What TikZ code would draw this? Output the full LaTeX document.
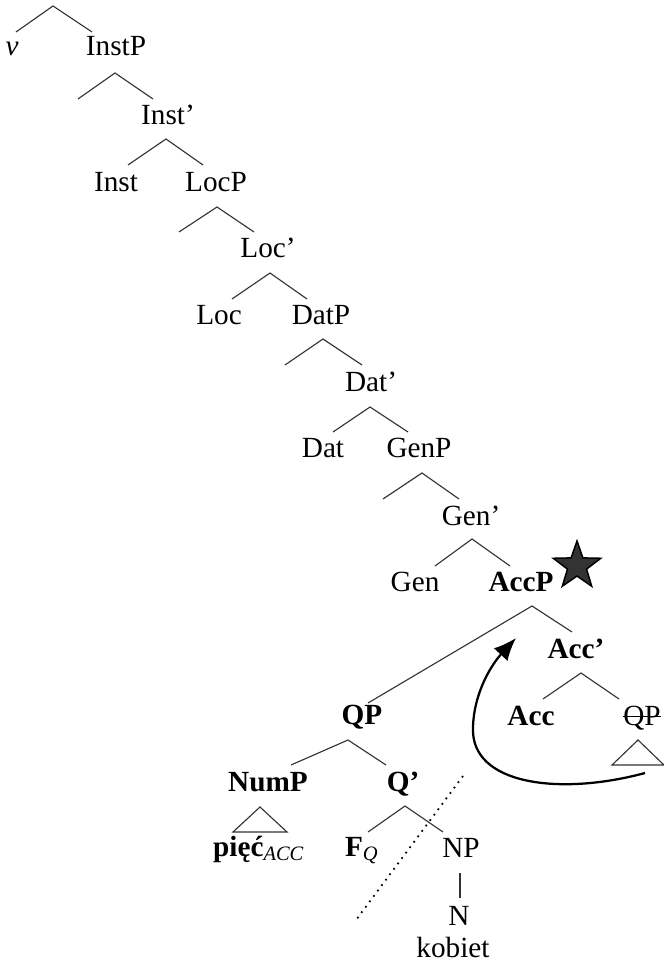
\documentclass[tikz,border=0pt]{standalone}
\usepackage{fontspec}
\setmainfont{Liberation Serif}
\usetikzlibrary{shapes.geometric,arrows.meta}

\begin{document}
\begin{tikzpicture}[x=0.4pt,y=-0.4pt,
  lab/.style={anchor=base,inner sep=0pt,font=\fontsize{11.7}{13}\selectfont},
  blab/.style={lab,font=\fontsize{11.7}{13}\selectfont\bfseries},
  branch/.style={draw=black!80,line width=0.45pt},
  movearrow/.style={line width=0.9pt,-{Latex[length=9pt,width=7.5pt]}},
  ]
\useasboundingbox (0,0) rectangle (664,964);

% ---- labels of the spine
\node[lab] (v)     at (12,56)   {\textit{v}};
\node[lab] (instp) at (116,56)  {InstP};
\node[lab] (instb) at (168,125) {Inst’};
\node[lab] (inst)  at (116,192) {Inst};
\node[lab] (locp)  at (216,192) {LocP};
\node[lab] (locb)  at (268,258) {Loc’};
\node[lab] (loc)   at (219,325) {Loc};
\node[lab] (datp)  at (321,325) {DatP};
\node[lab] (datb)  at (371,392) {Dat’};
\node[lab] (dat)   at (323,457) {Dat};
\node[lab] (genp)  at (419,457) {GenP};
\node[lab] (genb)  at (471,525) {Gen’};
\node[lab] (gen)   at (415,591) {Gen};
\node[blab] (accp) at (521,591) {AccP};
\node[star,star points=5,star point ratio=2.5,draw=black,fill=black!80,
      line width=0.6pt,minimum size=20pt,inner sep=0pt] (star) at (577,566) {};
\node[blab] (accb) at (576,658) {Acc’};
\node[blab] (acc)  at (531,725) {Acc};
\node[lab]  (qpt)  at (642,725) {QP};
\node[blab] (qp)   at (362,724) {QP};
\node[blab] (nump) at (268,791) {NumP};
\node[blab] (qb)   at (403,791) {Q’};
\node[lab]  (piec) at (259,856) {\textbf{pięć}\textsubscript{\textit{ACC}}};
\node[lab]  (fq)   at (362,856) {\textbf{F}\textsubscript{\textit{Q}}};
\node[lab]  (np)   at (461,857) {NP};
\node[lab]  (n)    at (459,925) {N};
\node[lab]  (kob)  at (453,957) {kobiet};

% strike through the lower copy of QP
\draw[line width=0.5pt] ([yshift=3.4pt]qpt.base west) -- ([yshift=3.4pt]qpt.base east);

% ---- branch points
\coordinate (a1) at (53,6);    \coordinate (a1l) at (16,32);   \coordinate (a1r) at (92,32);
\coordinate (a2) at (115,73);  \coordinate (a2l) at (78,99);   \coordinate (a2r) at (153,99);
\coordinate (a3) at (166,139); \coordinate (a3l) at (128,165); \coordinate (a3r) at (203,165);
\coordinate (a4) at (217,207); \coordinate (a4l) at (179,232); \coordinate (a4r) at (254,232);
\coordinate (a5) at (270,273); \coordinate (a5l) at (232,299); \coordinate (a5r) at (307,299);
\coordinate (a6) at (323,339); \coordinate (a6l) at (285,365); \coordinate (a6r) at (362,365);
\coordinate (a7) at (370,407); \coordinate (a7l) at (333,432); \coordinate (a7r) at (408,432);
\coordinate (a8) at (422,473); \coordinate (a8l) at (383,499); \coordinate (a8r) at (459,499);
\coordinate (a9) at (472,539); \coordinate (a9l) at (435,566); \coordinate (a9r) at (510,566);
\coordinate (b1) at (532,606); \coordinate (b1l) at (368,703); \coordinate (b1r) at (572,632);
\coordinate (b2) at (581,673); \coordinate (b2l) at (543,699); \coordinate (b2r) at (619,699);
\coordinate (c1) at (348,740); \coordinate (c1l) at (291,765); \coordinate (c1r) at (386,765);
\coordinate (c2) at (405,806); \coordinate (c2l) at (368,832); \coordinate (c2r) at (443,832);

\foreach \p in {a1,a2,a3,a4,a5,a6,a7,a8,a9,b1,b2,c1,c2}
  \draw[branch] (\p l) -- (\p) -- (\p r);

% NP -- N
\coordinate (npb) at (460,873); \coordinate (nt) at (460,898);
\draw[branch] (npb) -- (nt);

% triangles
\coordinate (t1) at (260,807); \coordinate (t1l) at (233,832); \coordinate (t1r) at (287,832);
\draw[branch] (t1l) -- (t1) -- (t1r) -- cycle;
\coordinate (t2) at (638,740); \coordinate (t2l) at (612,765); \coordinate (t2r) at (664,765);
\draw[branch] (t2l) -- (t2) -- (t2r) -- cycle;

% dotted cut line
\coordinate (d1) at (463,776); \coordinate (d2) at (356,920);
\draw[dotted,line width=0.7pt] (d1) -- (d2);

% movement arrow
\coordinate (m0) at (645,773); \coordinate (m1) at (473,727); \coordinate (m2) at (516,638);
\draw[movearrow] (m0) .. controls (560,796) and (470,785) .. (m1)
                      .. controls (474,692) and (492,664) .. (m2);
\end{tikzpicture}
\end{document}
